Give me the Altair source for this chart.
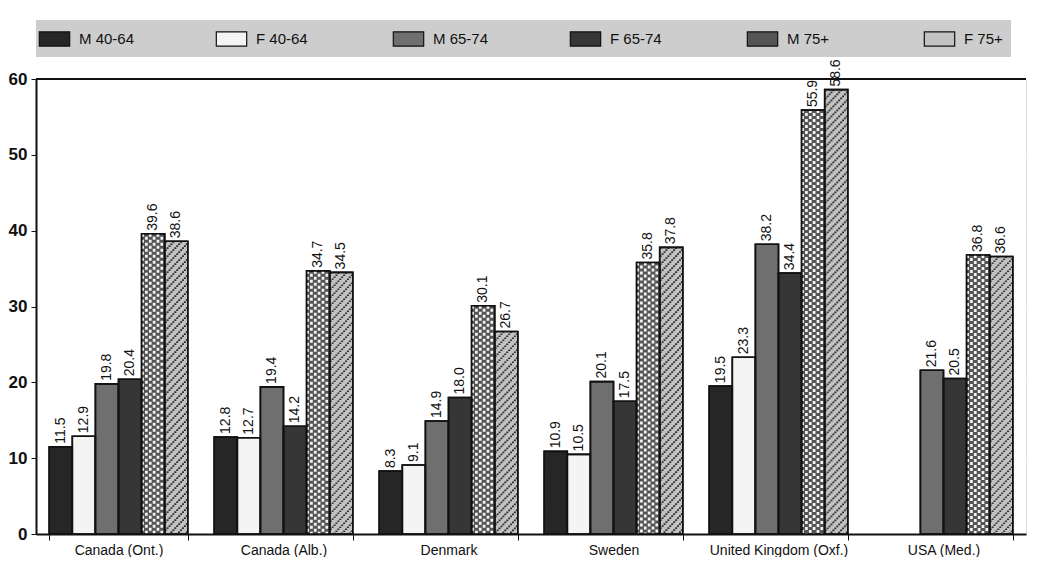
import altair as alt
import pandas as pd

countries = ["Canada (Ont.)", "Canada (Alb.)", "Denmark", "Sweden", "United Kingdom (Oxf.)", "USA (Med.)"]
series = ["M 40-64", "F 40-64", "M 65-74", "F 65-74", "M 75+", "F 75+"]
m_40_64 = [11.5, 12.8, 8.3, 10.9, 19.5, None]
f_40_64 = [12.9, 12.7, 9.1, 10.5, 23.3, None]
m_65_74 = [19.8, 19.4, 14.9, 20.1, 38.2, 21.6]
f_65_74 = [20.4, 14.2, 18.0, 17.5, 34.4, 20.5]
m_75 = [39.6, 34.7, 30.1, 35.8, 55.9, 36.8]
f_75 = [38.6, 34.5, 26.7, 37.8, 58.6, 36.6]
y_ticks = [0, 10, 20, 30, 40, 50, 60]

colors = ["#262626", "#f4f4f4", "#6f6f6f", "#363636", "#555555", "#c2c2c2"]

rows = []
for s, vals in zip(series, [m_40_64, f_40_64, m_65_74, f_65_74, m_75, f_75]):
    for c, v in zip(countries, vals):
        if v is not None:
            rows.append({"country": c, "series": s, "value": v, "label": f"{v:.1f}"})
df = pd.DataFrame(rows)

# fill-pattern helper table: sub-columns inside the patterned bars
K = 12
sub_keys = [f"{s}|{j}" for s in series for j in range(K)]
cross_rows, hatch_rows = [], []
for c, v in zip(countries, m_75):
    for j in range(0, K, 2):
        cross_rows.append({"country": c, "sub": f"M 75+|{j}", "value": v, "zero": 0,
                           "dash": f"c{(j // 2) % 2}"})
for c, v in zip(countries, f_75):
    for j in range(K):
        hatch_rows.append({"country": c, "sub": f"F 75+|{j}", "value": v, "zero": 0,
                           "dash": f"h{j % 4}"})
dash_keys = ["c0", "c1", "h0", "h1", "h2", "h3"]
dash_vals = [[3, 3], [0, 3, 3, 0],
             [0, 0, 1.6, 6.4], [0, 6, 1.6, 0.4], [0, 4, 1.6, 2.4], [0, 2, 1.6, 4.4]]

FONT = "Liberation Sans Narrow, Arial Narrow, Liberation Sans, sans-serif"

x = alt.X("country:N", sort=countries, title=None,
          scale=alt.Scale(paddingInner=0.16, paddingOuter=0.08),
          axis=alt.Axis(labelAngle=0, labelFont=FONT, labelFontSize=14, labelColor="#111",
                        domainColor="#111", domainWidth=2, tickBand="extent",
                        tickColor="#111", tickSize=6, labelPadding=3))
y = alt.Y("value:Q", title=None,
          scale=alt.Scale(domain=[0, 60], nice=False),
          axis=alt.Axis(values=y_ticks, labelFont=FONT, labelFontSize=17, labelFontWeight="bold",
                        labelColor="#111", domainColor="#111", domainWidth=2,
                        tickColor="#111", tickSize=5, gridColor="#ffffff", gridWidth=2,
                        labelPadding=4))

xoff_series = alt.XOffset("series:N", sort=series, scale=alt.Scale(domain=series, paddingInner=0))

bars = alt.Chart(df).mark_bar(stroke="#111", strokeWidth=1.6).encode(
    x=x, xOffset=xoff_series, y=y,
    color=alt.Color("series:N", sort=series,
                    scale=alt.Scale(domain=series, range=colors),
                    legend=alt.Legend(title=None, orient="top", offset=22,
                                      direction="horizontal", columns=6, gridAlign="all",
                                      columnPadding=78,
                                      symbolType="M-1.6,-0.75L1.6,-0.75L1.6,0.75L-1.6,0.75Z",
                                      symbolSize=360, symbolStrokeColor="#111", symbolStrokeWidth=1.2,
                                      labelFont=FONT, labelFontSize=15, labelColor="#111",
                                      fillColor="#cdcdcd", padding=8, labelOffset=14)),
)

sub_off = alt.XOffset("sub:N", scale=alt.Scale(domain=sub_keys, paddingInner=0, paddingOuter=0))
dash_enc = alt.StrokeDash("dash:N", scale=alt.Scale(domain=dash_keys, range=dash_vals), legend=None)

cross = alt.Chart(pd.DataFrame(cross_rows)).mark_rule(color="#f4f4f4", strokeWidth=2.7).encode(
    x=alt.X("country:N", sort=countries), xOffset=sub_off,
    y="value:Q", y2="zero:Q", strokeDash=dash_enc)

hatch = alt.Chart(pd.DataFrame(hatch_rows)).mark_rule(color="#333333", strokeWidth=2).encode(
    x=alt.X("country:N", sort=countries), xOffset=sub_off,
    y="value:Q", y2="zero:Q", strokeDash=dash_enc)

outline = alt.Chart(df).mark_bar(fillOpacity=0, stroke="#111", strokeWidth=1.6).encode(
    x=alt.X("country:N", sort=countries), xOffset=xoff_series, y="value:Q")

labels = alt.Chart(df).mark_text(angle=270, align="left", baseline="middle", dx=3,
                                 font=FONT, fontSize=14, color="#111").encode(
    x=alt.X("country:N", sort=countries), xOffset=xoff_series,
    y="value:Q", text="label:N")

top = alt.Chart(pd.DataFrame({"v": [60]})).mark_rule(color="#111", strokeWidth=2).encode(
    y=alt.Y("v:Q"))

chart = alt.layer(bars, cross, hatch, outline, labels, top).resolve_scale(
    xOffset="independent", strokeDash="independent"
).properties(
    width=990, height=455, padding={"left": 0, "right": 5, "top": 12, "bottom": 0}
).configure_view(fill="#c6c6c6", stroke=None).configure(background="#ffffff")

chart.save("out.html", embed_options={"renderer": "svg", "actions": False})
